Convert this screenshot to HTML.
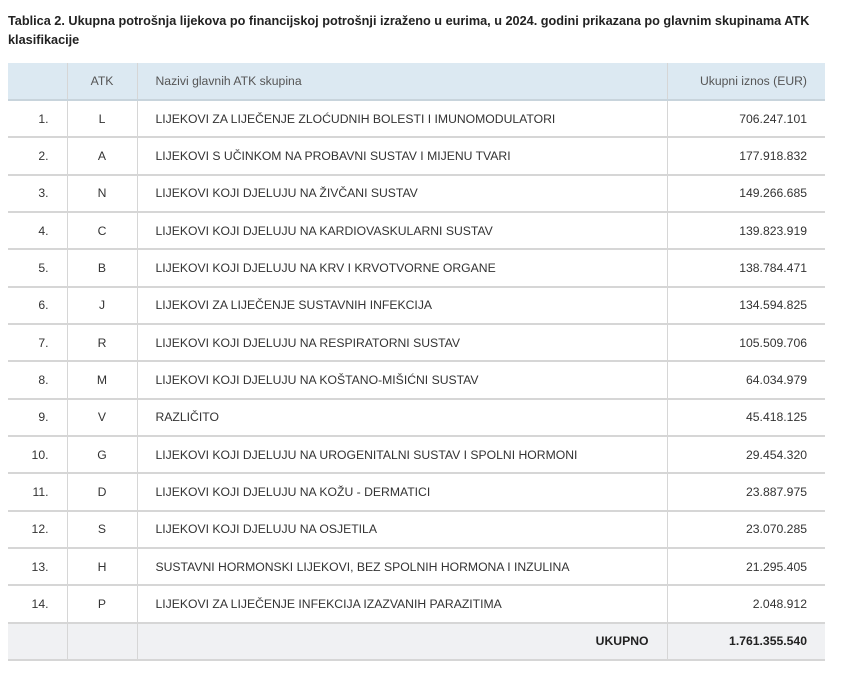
<!DOCTYPE html><html><head><meta charset="utf-8"><style>
body{margin:0;background:#fff;font-family:"Liberation Sans",sans-serif;color:#333;width:856px;height:674px;overflow:hidden}
.t{position:absolute;left:8px;top:12px;font-weight:bold;font-size:12.7px;line-height:19px;color:#222;width:830px}
table{position:absolute;left:8px;top:63px;border-collapse:collapse;width:817px;font-size:12.2px}
td,th{height:37.33px;padding:0 18px;border-bottom:2px solid #d6d6d6;border-left:1.5px solid #d6d6d6;box-sizing:border-box;font-weight:normal}
tr td:first-child,tr th:first-child{border-left:none}
th{background:#dce9f2;color:#555;border-bottom:2px solid #c8d4dc;height:37px}
td.n{text-align:right;width:59px;padding-right:18px}td.c{text-align:center;width:70px;padding:0}
td.r{text-align:right}
.tot td{background:#f0f1f3;font-weight:bold;color:#222}
</style></head><body>
<div class="t">Tablica 2. Ukupna potrošnja lijekova po financijskoj potrošnji izraženo u eurima, u 2024. godini prikazana po glavnim skupinama ATK klasifikacije</div>
<table>
<tr><th style="width:59px"></th><th style="width:70px;text-align:center;padding:0">ATK</th><th style="text-align:left">Nazivi glavnih ATK skupina</th><th style="text-align:right;width:158px">Ukupni iznos (EUR)</th></tr>
<tr><td class="n">1.</td><td class="c">L</td><td>LIJEKOVI ZA LIJEČENJE ZLOĆUDNIH BOLESTI I IMUNOMODULATORI</td><td class="r">706.247.101</td></tr>
<tr><td class="n">2.</td><td class="c">A</td><td>LIJEKOVI S UČINKOM NA PROBAVNI SUSTAV I MIJENU TVARI</td><td class="r">177.918.832</td></tr>
<tr><td class="n">3.</td><td class="c">N</td><td>LIJEKOVI KOJI DJELUJU NA ŽIVČANI SUSTAV</td><td class="r">149.266.685</td></tr>
<tr><td class="n">4.</td><td class="c">C</td><td>LIJEKOVI KOJI DJELUJU NA KARDIOVASKULARNI SUSTAV</td><td class="r">139.823.919</td></tr>
<tr><td class="n">5.</td><td class="c">B</td><td>LIJEKOVI KOJI DJELUJU NA KRV I KRVOTVORNE ORGANE</td><td class="r">138.784.471</td></tr>
<tr><td class="n">6.</td><td class="c">J</td><td>LIJEKOVI ZA LIJEČENJE SUSTAVNIH INFEKCIJA</td><td class="r">134.594.825</td></tr>
<tr><td class="n">7.</td><td class="c">R</td><td>LIJEKOVI KOJI DJELUJU NA RESPIRATORNI SUSTAV</td><td class="r">105.509.706</td></tr>
<tr><td class="n">8.</td><td class="c">M</td><td>LIJEKOVI KOJI DJELUJU NA KOŠTANO-MIŠIĆNI SUSTAV</td><td class="r">64.034.979</td></tr>
<tr><td class="n">9.</td><td class="c">V</td><td>RAZLIČITO</td><td class="r">45.418.125</td></tr>
<tr><td class="n">10.</td><td class="c">G</td><td>LIJEKOVI KOJI DJELUJU NA UROGENITALNI SUSTAV I SPOLNI HORMONI</td><td class="r">29.454.320</td></tr>
<tr><td class="n">11.</td><td class="c">D</td><td>LIJEKOVI KOJI DJELUJU NA KOŽU - DERMATICI</td><td class="r">23.887.975</td></tr>
<tr><td class="n">12.</td><td class="c">S</td><td>LIJEKOVI KOJI DJELUJU NA OSJETILA</td><td class="r">23.070.285</td></tr>
<tr><td class="n">13.</td><td class="c">H</td><td>SUSTAVNI HORMONSKI LIJEKOVI, BEZ SPOLNIH HORMONA I INZULINA</td><td class="r">21.295.405</td></tr>
<tr><td class="n">14.</td><td class="c">P</td><td>LIJEKOVI ZA LIJEČENJE INFEKCIJA IZAZVANIH PARAZITIMA</td><td class="r">2.048.912</td></tr>
<tr class="tot"><td class="n"></td><td class="c"></td><td class="r">UKUPNO</td><td class="r">1.761.355.540</td></tr>
</table>
</body></html>
